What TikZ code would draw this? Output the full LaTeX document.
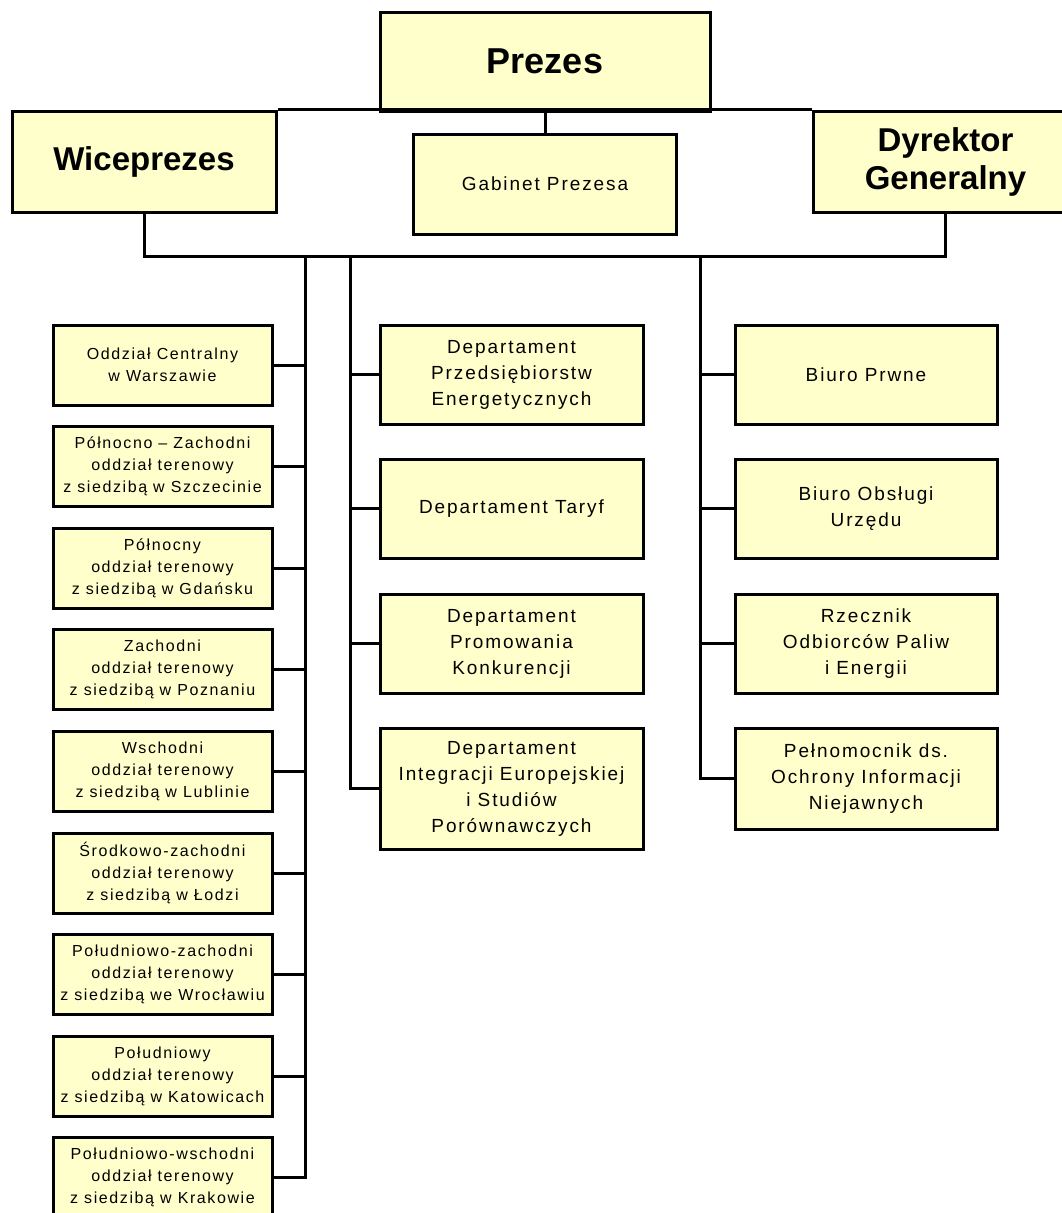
\documentclass[tikz,border=0pt]{standalone}
\usepackage{fontspec}
\setmainfont{Liberation Sans}
\newfontfamily\rzadki[LetterSpace=10]{Liberation Sans}
\usetikzlibrary{positioning, calc}
\definecolor{UrzadZolty}{RGB}{255,255,204}

\begin{document}
\begin{tikzpicture}[x=1pt, y=-1pt,
	caja/.style={draw=black, line width=3pt, fill=UrzadZolty, align=center, inner sep=0pt},
	glowna/.style={caja, font=\fontsize{33}{38}\selectfont\bfseries, minimum width=264pt, minimum height=101pt},
	dept/.style={caja, font=\rzadki\fontsize{19}{26}\selectfont, minimum width=263pt},
	oddz/.style={caja, font=\rzadki\fontsize{16}{22}\selectfont, minimum width=219pt, minimum height=80pt},
	linia/.style={line width=3pt}]
	\useasboundingbox (0,0) rectangle (1062,1213);
	% kierownictwo
	\node[glowna, minimum width=330pt, minimum height=99pt, font=\fontsize{36}{40}\selectfont\bfseries] (prezes) at (545,61.5) {Prezes};
	\node[glowna] (wice) at (144,161.5) {Wiceprezes};
	\node[glowna, minimum width=265pt] (dyr) at (945.5,161.5) {Dyrektor\\Generalny};
	\node[dept, minimum height=100pt] (gabinet) at (545,184) {Gabinet Prezesa};
	\draw[linia] (wice.north east) -- (dyr.north west);
	\draw[linia] (prezes.south) -- (gabinet.north);
	% szyna pozioma i pionowe odgałęzienia
	\coordinate (szyna) at (0,256);
	\coordinate (pionL) at (305,256);
	\coordinate (pionS) at (350,256);
	\coordinate (pionP) at (700,256);
	\draw[linia] (wice.south) |- (szyna -| dyr.south) -- (dyr.south);
	% oddziały terenowe
	\foreach \i/\txt in {
		1/{Oddział Centralny\\w Warszawie},
		2/{Północno – Zachodni\\oddział terenowy\\z siedzibą w Szczecinie},
		3/{Północny\\oddział terenowy\\z siedzibą w Gdańsku},
		4/{Zachodni\\oddział terenowy\\z siedzibą w Poznaniu},
		5/{Wschodni\\oddział terenowy\\z siedzibą w Lublinie},
		6/{Środkowo-zachodni\\oddział terenowy\\z siedzibą w Łodzi},
		7/{Południowo-zachodni\\oddział terenowy\\z siedzibą we Wrocławiu},
		8/{Południowy\\oddział terenowy\\z siedzibą w Katowicach},
		9/{Południowo-wschodni\\oddział terenowy\\z siedzibą w Krakowie}}{
		\node[oddz] (oddz\i) at (162.5,{365+101.6*(\i-1)}) {\txt};
	}
	% departamenty
	\foreach \i/\y/\h/\txt in {
		1/374.5/99/{Departament\\Przedsiębiorstw\\Energetycznych},
		2/508.5/99/{Departament Taryf},
		3/643.5/99/{Departament\\Promowania\\Konkurencji},
		4/788.5/121/{Departament\\Integracji Europejskiej\\i Studiów\\Porównawczych}}{
		\node[dept, minimum height=\h pt] (dept\i) at (511.5,\y) {\txt};
	}
	% biura
	\foreach \i/\y/\h/\txt in {
		1/374.5/99/{Biuro Prwne},
		2/508.5/99/{Biuro Obsługi\\Urzędu},
		3/643.5/99/{Rzecznik\\Odbiorców Paliw\\i Energii},
		4/778.5/101/{Pełnomocnik ds.\\Ochrony Informacji\\Niejawnych}}{
		\node[dept, minimum width=262pt, minimum height=\h pt] (biuro\i) at (866,\y) {\txt};
	}
	% łączniki
	\draw[linia] (pionL) |- (oddz9.east);
	\draw[linia] (pionS) |- (dept4.west);
	\draw[linia] (pionP) |- (biuro4.west);
	\foreach \i in {1,...,8}{
		\draw[linia] (oddz\i.east) -- (oddz\i.east -| pionL);
	}
	\foreach \i in {1,2,3}{
		\draw[linia] (dept\i.west) -- (dept\i.west -| pionS);
		\draw[linia] (biuro\i.west) -- (biuro\i.west -| pionP);
	}
\end{tikzpicture}
\end{document}
